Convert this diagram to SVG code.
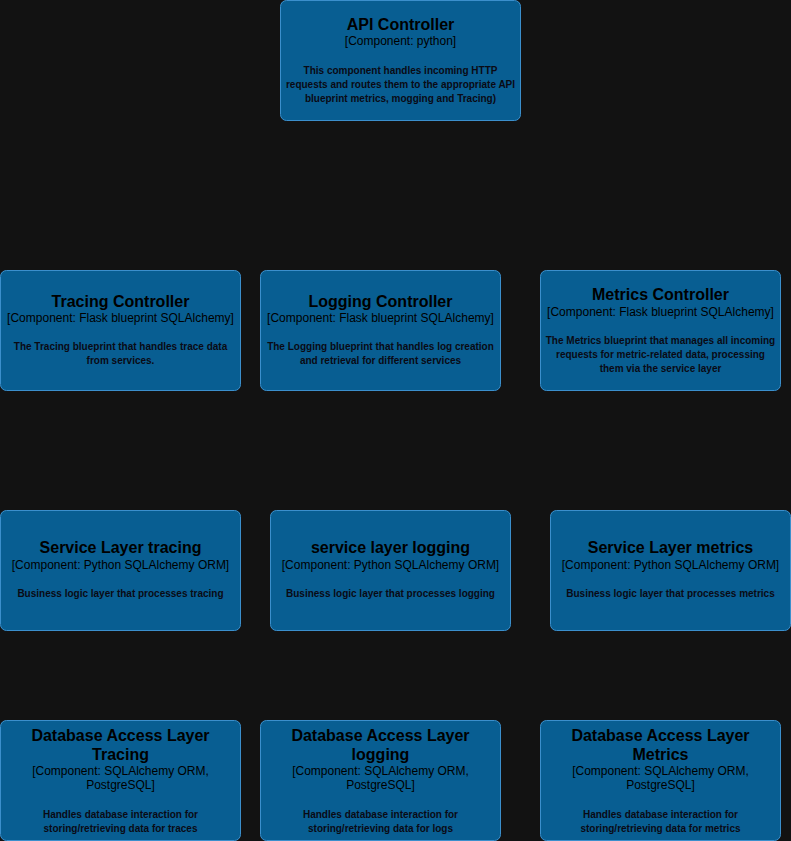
<svg xmlns="http://www.w3.org/2000/svg" width="791" height="841" viewBox="0 0 791 841">
<style>
.bg{fill:#121212}
.box{fill:#085e92;stroke:#3b8fcc;stroke-width:1}
text{font-family:"Liberation Sans",Arial,sans-serif;text-anchor:middle;fill:#000}
.t{font-size:16px;font-weight:bold}
.s{font-size:12px}
.d{font-size:10px;font-weight:bold;fill:#0a0a14}
</style>
<rect class="bg" x="0" y="0" width="791" height="841"/>
<g id="connectors"></g>
<g id="api-controller">
<rect class="box" x="280.5" y="0.5" width="240" height="120" rx="6"/>
<text class="t" x="400.5" y="30">API Controller</text>
<text class="s" x="400.5" y="45">[Component: python]</text>
<text class="d" x="400.5" y="74">This component handles incoming HTTP</text>
<text class="d" x="400.5" y="88">requests and routes them to the appropriate API</text>
<text class="d" x="400.5" y="102">blueprint metrics, mogging and Tracing)</text>
</g>
<g id="tracing-controller">
<rect class="box" x="0.5" y="270.5" width="240" height="120" rx="6"/>
<text class="t" x="120.5" y="306.5">Tracing Controller</text>
<text class="s" x="120.5" y="322">[Component: Flask blueprint SQLAlchemy]</text>
<text class="d" x="120.5" y="350">The Tracing blueprint that handles trace data</text>
<text class="d" x="120.5" y="364">from services.</text>
</g>
<g id="logging-controller">
<rect class="box" x="260.5" y="270.5" width="240" height="120" rx="6"/>
<text class="t" x="380.5" y="306.5">Logging Controller</text>
<text class="s" x="380.5" y="322">[Component: Flask blueprint SQLAlchemy]</text>
<text class="d" x="380.5" y="350">The Logging blueprint that handles log creation</text>
<text class="d" x="380.5" y="364">and retrieval for different services</text>
</g>
<g id="metrics-controller">
<rect class="box" x="540.5" y="270.5" width="240" height="120" rx="6"/>
<text class="t" x="660.5" y="300">Metrics Controller</text>
<text class="s" x="660.5" y="315.5">[Component: Flask blueprint SQLAlchemy]</text>
<text class="d" x="660.5" y="344">The Metrics blueprint that manages all incoming</text>
<text class="d" x="660.5" y="358">requests for metric-related data, processing</text>
<text class="d" x="660.5" y="372">them via the service layer</text>
</g>
<g id="service-layer-tracing">
<rect class="box" x="0.5" y="510.5" width="240" height="120" rx="6"/>
<text class="t" x="120.5" y="553">Service Layer tracing</text>
<text class="s" x="120.5" y="569">[Component: Python SQLAlchemy ORM]</text>
<text class="d" x="120.5" y="597">Business logic layer that processes tracing</text>
</g>
<g id="service-layer-logging">
<rect class="box" x="270.5" y="510.5" width="240" height="120" rx="6"/>
<text class="t" x="390.5" y="553">service layer logging</text>
<text class="s" x="390.5" y="569">[Component: Python SQLAlchemy ORM]</text>
<text class="d" x="390.5" y="597">Business logic layer that processes logging</text>
</g>
<g id="service-layer-metrics">
<rect class="box" x="550.5" y="510.5" width="240" height="120" rx="6"/>
<text class="t" x="670.5" y="553">Service Layer metrics</text>
<text class="s" x="670.5" y="569">[Component: Python SQLAlchemy ORM]</text>
<text class="d" x="670.5" y="597">Business logic layer that processes metrics</text>
</g>
<g id="db-access-tracing">
<rect class="box" x="0.5" y="720.5" width="240" height="120" rx="6"/>
<text class="t" x="120.5" y="741">Database Access Layer</text>
<text class="t" x="120.5" y="760">Tracing</text>
<text class="s" x="120.5" y="775">[Component: SQLAlchemy ORM,</text>
<text class="s" x="120.5" y="789">PostgreSQL]</text>
<text class="d" x="120.5" y="818">Handles database interaction for</text>
<text class="d" x="120.5" y="832">storing/retrieving data for traces</text>
</g>
<g id="db-access-logging">
<rect class="box" x="260.5" y="720.5" width="240" height="120" rx="6"/>
<text class="t" x="380.5" y="741">Database Access Layer</text>
<text class="t" x="380.5" y="760">logging</text>
<text class="s" x="380.5" y="775">[Component: SQLAlchemy ORM,</text>
<text class="s" x="380.5" y="789">PostgreSQL]</text>
<text class="d" x="380.5" y="818">Handles database interaction for</text>
<text class="d" x="380.5" y="832">storing/retrieving data for logs</text>
</g>
<g id="db-access-metrics">
<rect class="box" x="540.5" y="720.5" width="240" height="120" rx="6"/>
<text class="t" x="660.5" y="741">Database Access Layer</text>
<text class="t" x="660.5" y="760">Metrics</text>
<text class="s" x="660.5" y="775">[Component: SQLAlchemy ORM,</text>
<text class="s" x="660.5" y="789">PostgreSQL]</text>
<text class="d" x="660.5" y="818">Handles database interaction for</text>
<text class="d" x="660.5" y="832">storing/retrieving data for metrics</text>
</g>
</svg>
